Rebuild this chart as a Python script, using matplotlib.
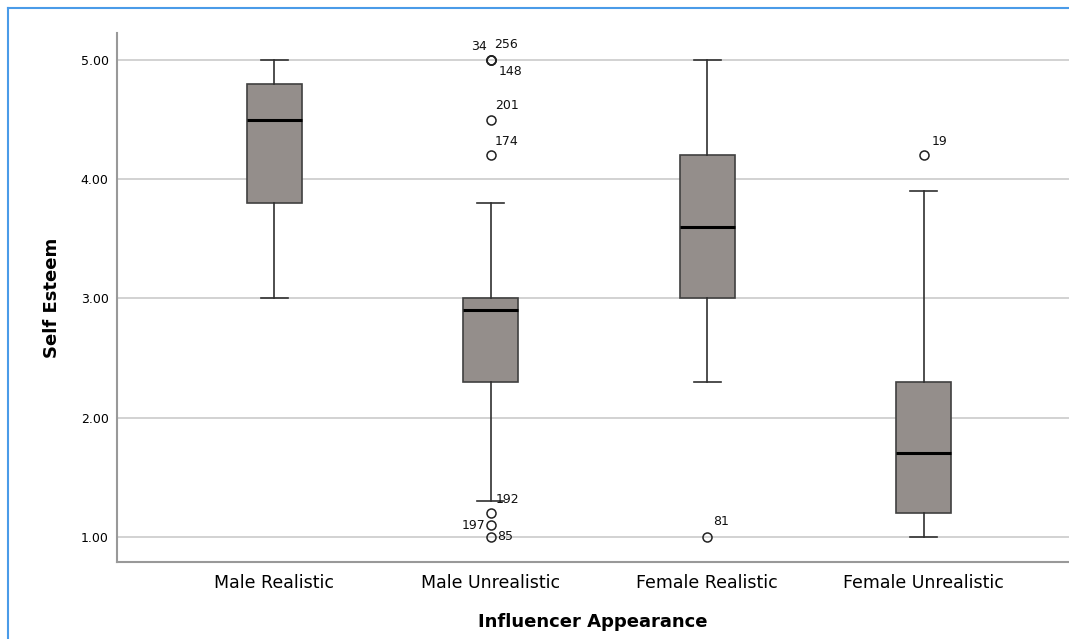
import matplotlib
matplotlib.use("Agg")
import matplotlib.pyplot as plt
from matplotlib.lines import Line2D

categories = ["Male Realistic", "Male Unrealistic", "Female Realistic", "Female Unrealistic"]
whisker_low = [3.0, 1.3, 2.3, 1.0]
q1 = [3.8, 2.3, 3.0, 1.2]
median = [4.5, 2.9, 3.6, 1.7]
q3 = [4.8, 3.0, 4.2, 2.3]
whisker_high = [5.0, 3.8, 5.0, 3.9]
outlier_group = [2, 2, 2, 2, 2, 2, 2, 2, 3, 4]
outlier_value = [5.0, 5.0, 5.0, 4.5, 4.2, 1.2, 1.1, 1.0, 1.0, 4.2]
outlier_label = ["34", "256", "148", "201", "174", "192", "197", "85", "81", "19"]
yticks = [1.0, 2.0, 3.0, 4.0, 5.0]

# label offsets in pixels (dx, dy, ha)
label_offsets = {"34": (-4, 13, "right"), "256": (3, 15, "left"), "148": (8, -12, "left"),
                 "201": (4, 14, "left"), "174": (4, 14, "left"), "192": (5, 14, "left"),
                 "197": (-5, 0, "right"), "85": (6, 0, "left"), "81": (6, 15, "left"),
                 "19": (8, 14, "left")}

fig = plt.figure(figsize=(10.69, 6.39), dpi=100)
ax = fig.add_axes([117/1069, 1-562/639, (1069-117)/1069, (562-33)/639])

stats = []
for i, c in enumerate(categories):
    stats.append(dict(label=c, whislo=whisker_low[i], q1=q1[i], med=median[i],
                      q3=q3[i], whishi=whisker_high[i], fliers=[]))

ax.set_axisbelow(True)
ax.yaxis.grid(True, color="#cfcfcf", linewidth=1.3)
ax.bxp(stats, positions=[1, 2, 3, 4], widths=0.254, patch_artist=True, showfliers=False,
       boxprops=dict(facecolor="#948e8b", edgecolor="#404040", linewidth=1.2),
       medianprops=dict(color="black", linewidth=2.2),
       whiskerprops=dict(color="#303030", linewidth=1.2),
       capprops=dict(color="#303030", linewidth=1.2),
       capwidths=0.125)

ax.plot(outlier_group, outlier_value, linestyle="none", marker="o", markersize=6.5,
        markerfacecolor="none", markeredgecolor="#222222", markeredgewidth=1.1)
for g, v, lab in zip(outlier_group, outlier_value, outlier_label):
    dx, dy, ha = label_offsets[lab]
    ax.annotate(lab, (g, v), xytext=(dx, dy), textcoords="offset pixels",
                ha=ha, va="center", fontsize=9, color="#111111")

ax.set_xlim(0.275, 4.67)
ax.set_ylim(0.79, 5.226)
ax.set_yticks(yticks)
ax.set_yticklabels([f"{t:.2f}" for t in yticks])
ax.set_xticks([1, 2, 3, 4])
ax.set_xticklabels(categories)
ax.tick_params(axis="y", length=0, pad=6, labelsize=9)
ax.tick_params(axis="x", length=0, pad=9, labelsize=12.5)
for s in ["top", "right"]:
    ax.spines[s].set_visible(False)
for s in ["left", "bottom"]:
    ax.spines[s].set_color("#999999")
    ax.spines[s].set_linewidth(1.5)

ax.set_xlabel("Influencer Appearance", fontsize=13, fontweight="bold", labelpad=15)
ax.set_ylabel("Self Esteem", fontsize=13, fontweight="bold", labelpad=14)

fig.add_artist(Line2D([8/1069, 8/1069], [0, 1-8/639], transform=fig.transFigure,
                      color="#4a9be8", linewidth=1.5))
fig.add_artist(Line2D([8/1069, 1], [1-8/639, 1-8/639], transform=fig.transFigure,
                      color="#4a9be8", linewidth=1.5))

fig.savefig("out.png", dpi=100)
